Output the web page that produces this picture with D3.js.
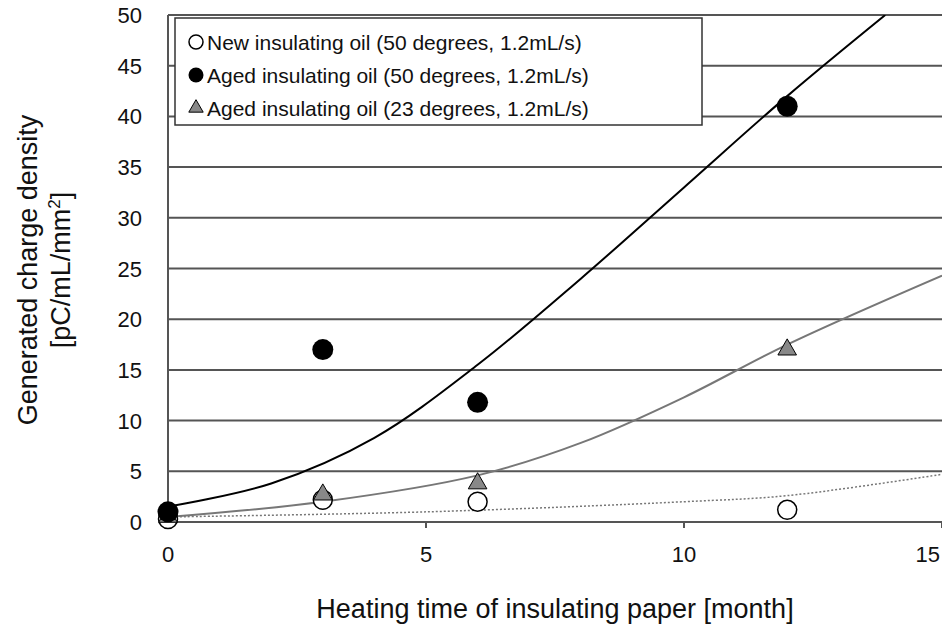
<!DOCTYPE html><html><head><meta charset="utf-8">
<script src="https://cdn.jsdelivr.net/npm/d3@7"></script>
<style>body{margin:0;background:#fff}text{font-family:"Liberation Sans",Arial,sans-serif}</style></head><body>
<svg id="c" width="942" height="633"></svg>
<script>
const xTicks=[0,5,10,15];
const yTicks=[0,5,10,15,20,25,30,35,40,45,50];
const newOil=[[0,0.3],[3,2.2],[6,2.0],[12,1.2]];
const aged50=[[0,1.0],[3,17],[6,11.8],[12,41]];
const aged23=[[0,0.5],[3,2.7],[6,3.8],[12,17]];
const trendAged50=[[0,1.5],[2,3.8],[4,8.3],[6,15.5],[8,24],[10,33],[12,42],[13.9,50]];
const trendAged23=[[0,0.5],[3,2],[6,4.6],[8,7.8],[10,12.3],[12,17.5],[15,24.3]];
const trendNew=[[0,0.5],[5,1],[10,2],[12,2.6],[15,4.7]];
const legendLabels=["New insulating oil (50 degrees, 1.2mL/s)","Aged insulating oil (50 degrees, 1.2mL/s)","Aged insulating oil (23 degrees, 1.2mL/s)"];

const svg=d3.select("#c");
const x=d3.scaleLinear().domain([0,15]).range([168,942]);
const y=d3.scaleLinear().domain([0,50]).range([522,15]);
const g=svg.append("g");
yTicks.forEach(t=>{g.append("line").attr("x1",168).attr("x2",942).attr("y1",y(t)).attr("y2",y(t)).attr("stroke","#555").attr("stroke-width",2);});
g.append("line").attr("x1",168).attr("x2",168).attr("y1",y(0)).attr("y2",y(50)).attr("stroke","#555").attr("stroke-width",2);
xTicks.forEach((t,i)=>{g.append("line").attr("x1",x(t)).attr("x2",x(t)).attr("y1",y(0)).attr("y2",y(0)+6).attr("stroke","#555").attr("stroke-width",2);
 const last=i===xTicks.length-1;
 g.append("text").attr("x",last?940:x(t)).attr("y",562).attr("text-anchor",last?"end":"middle").attr("font-size",22).attr("fill","#111").text(t);});
yTicks.forEach(t=>{g.append("text").attr("x",142).attr("y",y(t)+8).attr("text-anchor","end").attr("font-size",22).attr("fill","#111").text(t);});
svg.append("text").attr("x",555).attr("y",618).attr("text-anchor","middle").attr("font-size",27).attr("fill","#111").text("Heating time of insulating paper [month]");
const yt=svg.append("text").attr("transform","translate(0,270) rotate(-90)").attr("text-anchor","middle").attr("font-size",27).attr("fill","#111");
yt.append("tspan").attr("x",0).attr("dy",37).text("Generated charge density");
const t2=yt.append("tspan").attr("x",0).attr("dy",33).text("[pC/mL/mm");
t2.append("tspan").attr("dy",-10).attr("font-size",17).text("2");
t2.append("tspan").attr("dy",10).text("]");

svg.append("clipPath").attr("id","cp").append("rect").attr("x",168).attr("y",15).attr("width",774).attr("height",510);
const line=d3.line().x(d=>x(d[0])).y(d=>y(d[1])).curve(d3.curveCatmullRom);
const lg=svg.append("g").attr("clip-path","url(#cp)");
lg.append("path").attr("d",line(trendNew)).attr("fill","none").attr("stroke","#777").attr("stroke-width",1.5).attr("stroke-dasharray","2,2");
lg.append("path").attr("d",line(trendAged23)).attr("fill","none").attr("stroke","#777").attr("stroke-width",2);
lg.append("path").attr("d",line(trendAged50)).attr("fill","none").attr("stroke","#000").attr("stroke-width",2);

const tri=d3.symbol().type(d3.symbolTriangle).size(150);
newOil.forEach(d=>svg.append("circle").attr("cx",x(d[0])).attr("cy",y(d[1])).attr("r",9.5).attr("fill","#fff").attr("stroke","#000").attr("stroke-width",1.5));
aged23.forEach(d=>svg.append("path").attr("d",tri()).attr("transform",`translate(${x(d[0])},${y(d[1])})`).attr("fill","#888").attr("stroke","#000").attr("stroke-width",1));
aged50.forEach(d=>svg.append("circle").attr("cx",x(d[0])).attr("cy",y(d[1])).attr("r",10.5).attr("fill","#000"));

const L=svg.append("g");
L.append("rect").attr("x",175).attr("y",18).attr("width",527).attr("height",107).attr("fill","#fff").attr("stroke","#333").attr("stroke-width",1.5);
legendLabels.forEach((s,i)=>{const cy=42+i*33;
 if(i==0)L.append("circle").attr("cx",196).attr("cy",cy).attr("r",7).attr("fill","#fff").attr("stroke","#000").attr("stroke-width",1.5);
 if(i==1)L.append("circle").attr("cx",196).attr("cy",cy).attr("r",7.5).attr("fill","#000");
 if(i==2)L.append("path").attr("d",d3.symbol().type(d3.symbolTriangle).size(90)()).attr("transform",`translate(196,${cy})`).attr("fill","#888").attr("stroke","#000");
 L.append("text").attr("x",207).attr("y",cy+8).attr("font-size",21).attr("fill","#111").text(s);});
</script></body></html>
